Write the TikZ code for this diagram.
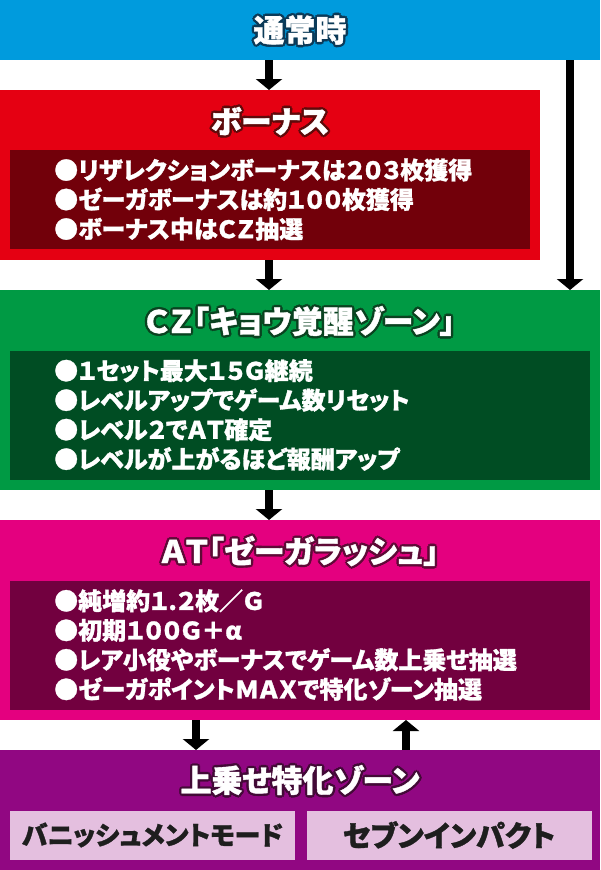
\documentclass[tikz,border=0pt]{standalone}
\usepackage{fontspec}
\newfontfamily\jp{Noto Sans CJK JP}[RawFeature={+fwid;+palt},BoldFeatures={FakeBold=1.2}]
\usetikzlibrary{positioning,calc,arrows.meta}

\definecolor{skyblue}{HTML}{009BDD}
\definecolor{normalline}{HTML}{0B3A58}
\definecolor{bonusred}{HTML}{E50012}
\definecolor{bonusdark}{HTML}{72000A}
\definecolor{bonusline}{HTML}{5E0A0A}
\definecolor{czgreen}{HTML}{009A44}
\definecolor{czdark}{HTML}{004D23}
\definecolor{czline}{HTML}{0A4220}
\definecolor{atpink}{HTML}{E4007F}
\definecolor{atdark}{HTML}{72003F}
\definecolor{atline}{HTML}{5E0A36}
\definecolor{zonepurple}{HTML}{910782}
\definecolor{zoneline}{HTML}{420A36}
\definecolor{lightpink}{HTML}{E4BFDF}
\definecolor{tagtext}{HTML}{1E1E1E}

% title with a dark outline: name, position, outline colour, text
\newcommand{\outlined}[4]{%
  \foreach \a in {0,45,...,315}
    \node[ttl,text=#3] at ($(#2)+(\a:2.4)$) {#4};
  \node[ttl,text=white] (#1) at (#2) {#4};}
% a narrow full stop
\newcommand{\dotnarrow}{{\addfontfeatures{RawFeature=-fwid}.}}

\begin{document}
\begin{tikzpicture}[x=1pt,y=-1pt,
  box/.style={inner sep=0pt,outer sep=0pt},
  ttl/.style={font=\jp\bfseries\fontsize{31}{32}\selectfont,inner sep=0pt},
  lines/.style={font=\jp\bfseries\fontsize{24}{29.5}\selectfont,text=white,align=left,inner sep=0pt,anchor=west},
  tag/.style={box,fill=lightpink,minimum width=285pt,minimum height=49pt,font=\jp\bfseries\fontsize{27}{28}\selectfont,text=tagtext},
  arr/.style={-{Triangle[length=11pt,width=26pt]},line width=8pt,black}]
		\useasboundingbox (0,0) rectangle (600,870);
		
		\node[box,fill=skyblue,minimum width=600pt,minimum height=60pt] (normal) at (300,30) {};
		\node[box,fill=bonusred,minimum width=540pt,minimum height=170pt] (bonus) at (270,175) {};
		\node[box,fill=bonusdark,minimum width=520pt,minimum height=99pt] (bonusin) at (270,199.5) {};
		\node[box,fill=czgreen,minimum width=600pt,minimum height=200pt] (cz) at (300,390) {};
		\node[box,fill=czdark,minimum width=580pt,minimum height=129pt] (czin) at (300,415) {};
		\node[box,fill=atpink,minimum width=600pt,minimum height=200pt] (at) at (300,620) {};
		\node[box,fill=atdark,minimum width=580pt,minimum height=129pt] (atin) at (300,645) {};
		\node[box,fill=zonepurple,minimum width=600pt,minimum height=120pt] (zone) at (300,810) {};
		\node[tag,font=\jp\bfseries\fontsize{26}{28}\selectfont] (vanish) at (152.5,835) {バニッシュメントモード};
		\node[tag,font=\jp\bfseries\fontsize{29}{30}\selectfont] (seven) at (449,835) {セブンインパクト};
		
		\outlined{normaltitle}{300,30}{normalline}{通常時}
		\outlined{bonustitle}{270,121}{bonusline}{ボーナス}
		\outlined{cztitle}{300,321}{czline}{CZ「キョウ覚醒ゾーン」}
		\outlined{attitle}{300,551}{atline}{AT「ゼーガラッシュ」}
		\outlined{zonetitle}{300,780}{zoneline}{上乗せ特化ゾーン}
		
		\node[lines] (bonustext) at ([xshift=44pt]bonusin.west) {●リザレクションボーナスは203枚獲得\\●ゼーガボーナスは約100枚獲得\\●ボーナス中はCZ抽選};
		\node[lines] (cztext) at ([xshift=44pt]czin.west) {●1セット最大15G継続\\●レベルアップでゲーム数リセット\\●レベル2でAT確定\\●レベルが上がるほど報酬アップ};
		\node[lines] (attext) at ([xshift=44pt]atin.west) {●純増約1\dotnarrow 2枚／G\\●初期100G＋α\\●レア小役やボーナスでゲーム数上乗せ抽選\\●ゼーガポイントMAXで特化ゾーン抽選};
		
		\coordinate (mainaxis) at (269,0);
		\coordinate (skipaxis) at (570,0);
		\coordinate (downaxis) at (196,0);
		\coordinate (upaxis) at (406,0);
		\draw[arr] (mainaxis |- normal.south)--(mainaxis |- bonus.north);
		\draw[arr] (mainaxis |- bonus.south)--(mainaxis |- cz.north);
		\draw[arr] (skipaxis |- normal.south)--(skipaxis |- cz.north);
		\draw[arr] (mainaxis |- cz.south)--(mainaxis |- at.north);
		\draw[arr] (downaxis |- at.south)--(downaxis |- zone.north);
		\draw[arr] (upaxis |- zone.north)--(upaxis |- at.south);
	\end{tikzpicture}
\end{document}
